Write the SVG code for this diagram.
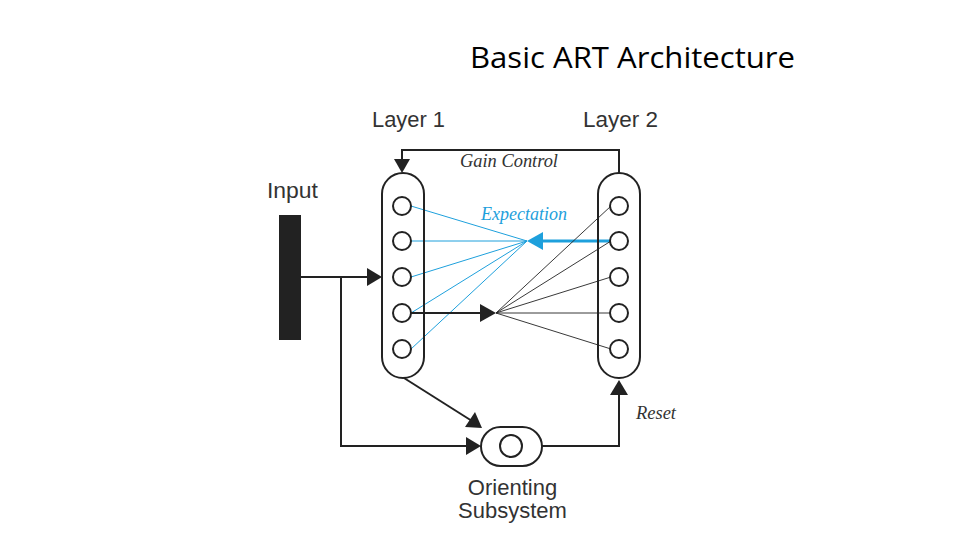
<svg xmlns="http://www.w3.org/2000/svg" width="960" height="540" viewBox="0 0 960 540">
<style>
.lbl{font-family:"Liberation Sans",Arial,sans-serif;font-size:22px;fill:#333}
.it{font-family:"Liberation Serif","Times New Roman",serif;font-style:italic;font-size:18px}
.ln{stroke:#222;stroke-width:2;fill:none}
.thin{stroke:#222;stroke-width:0.9;fill:none}
.bl{stroke:#1ea0dc;stroke-width:1;fill:none}
.node{fill:#fff;stroke:#222;stroke-width:2}
</style>
<rect width="960" height="540" fill="#fff"/>
<text x="470" y="68" font-family="'Open Sans','Liberation Sans',sans-serif" font-size="29" font-weight="500" textLength="325" lengthAdjust="spacingAndGlyphs" fill="#000">Basic ART Architecture</text>
<text class="lbl" x="372" y="127" textLength="73" lengthAdjust="spacingAndGlyphs">Layer 1</text>
<text class="lbl" x="583" y="127" textLength="75" lengthAdjust="spacingAndGlyphs">Layer 2</text>
<text class="lbl" x="267" y="198" textLength="51" lengthAdjust="spacingAndGlyphs">Input</text>
<text class="it" x="460" y="167" fill="#333" textLength="98" lengthAdjust="spacingAndGlyphs">Gain Control</text>
<text class="it" x="481" y="220" fill="#1ea0dc" textLength="86" lengthAdjust="spacingAndGlyphs">Expectation</text>
<text class="it" x="636" y="419" fill="#333" textLength="40" lengthAdjust="spacingAndGlyphs">Reset</text>
<text class="lbl" x="512.5" y="495" text-anchor="middle">Orienting</text>
<text class="lbl" x="512.5" y="518" text-anchor="middle">Subsystem</text>

<g id="connectors">
<polyline class="ln" points="619,173 619,150 402,150 402,160"/>
<path d="M394,159 L410,159 L402,173 Z" fill="#222"/>
<line class="ln" x1="301" y1="277" x2="368" y2="277"/>
<path d="M367,268 L382,277 L367,286 Z" fill="#222"/>
<polyline class="ln" points="341,277 341,446 467,446"/>
<path d="M466,437 L481,446 L466,455 Z" fill="#222"/>
<line class="ln" x1="404" y1="378" x2="472" y2="421"/>
<path d="M465,427 L482,428 L475,412 Z" fill="#222"/>
<polyline class="ln" points="542,446 619,446 619,394"/>
<path d="M610,395 L619,380 L628,395 Z" fill="#222"/>
<line class="bl" x1="411" y1="206" x2="527" y2="241"/>
<line class="bl" x1="411" y1="241" x2="527" y2="241"/>
<line class="bl" x1="411" y1="277" x2="527" y2="241"/>
<line class="bl" x1="411" y1="313" x2="527" y2="241"/>
<line class="bl" x1="411" y1="349" x2="527" y2="241"/>
<line x1="610" y1="241" x2="540" y2="241" stroke="#1ea0dc" stroke-width="3"/>
<path d="M543,232 L527,241 L543,250 Z" fill="#1ea0dc"/>
<line class="ln" x1="411" y1="313" x2="482" y2="313"/>
<path d="M480,304 L496,313 L480,322 Z" fill="#222"/>
<line class="thin" x1="496" y1="313" x2="611" y2="206"/>
<line class="thin" x1="496" y1="313" x2="611" y2="241"/>
<line class="thin" x1="496" y1="313" x2="611" y2="277"/>
<line class="thin" x1="496" y1="313" x2="611" y2="313"/>
<line class="thin" x1="496" y1="313" x2="611" y2="349"/>
</g>

<g id="input"><rect x="279" y="215" width="22" height="125" fill="#222"/></g>

<g id="layer1">
<rect x="382" y="173" width="42" height="205" rx="21" fill="none" stroke="#222" stroke-width="2"/>
<circle class="node" cx="402" cy="206" r="9"/>
<circle class="node" cx="402" cy="241" r="9"/>
<circle class="node" cx="402" cy="277" r="9"/>
<circle class="node" cx="402" cy="313" r="9"/>
<circle class="node" cx="402" cy="349" r="9"/>
</g>
<g id="layer2">
<rect x="598" y="173" width="42" height="205" rx="21" fill="none" stroke="#222" stroke-width="2"/>
<circle class="node" cx="619" cy="206" r="9"/>
<circle class="node" cx="619" cy="241" r="9"/>
<circle class="node" cx="619" cy="277" r="9"/>
<circle class="node" cx="619" cy="313" r="9"/>
<circle class="node" cx="619" cy="349" r="9"/>
</g>
<g id="orienting">
<rect x="481" y="427" width="61" height="39" rx="19.5" fill="#fff" stroke="#222" stroke-width="2"/>
<circle cx="511" cy="446" r="11" fill="#fff" stroke="#222" stroke-width="2"/>
</g>
</svg>
